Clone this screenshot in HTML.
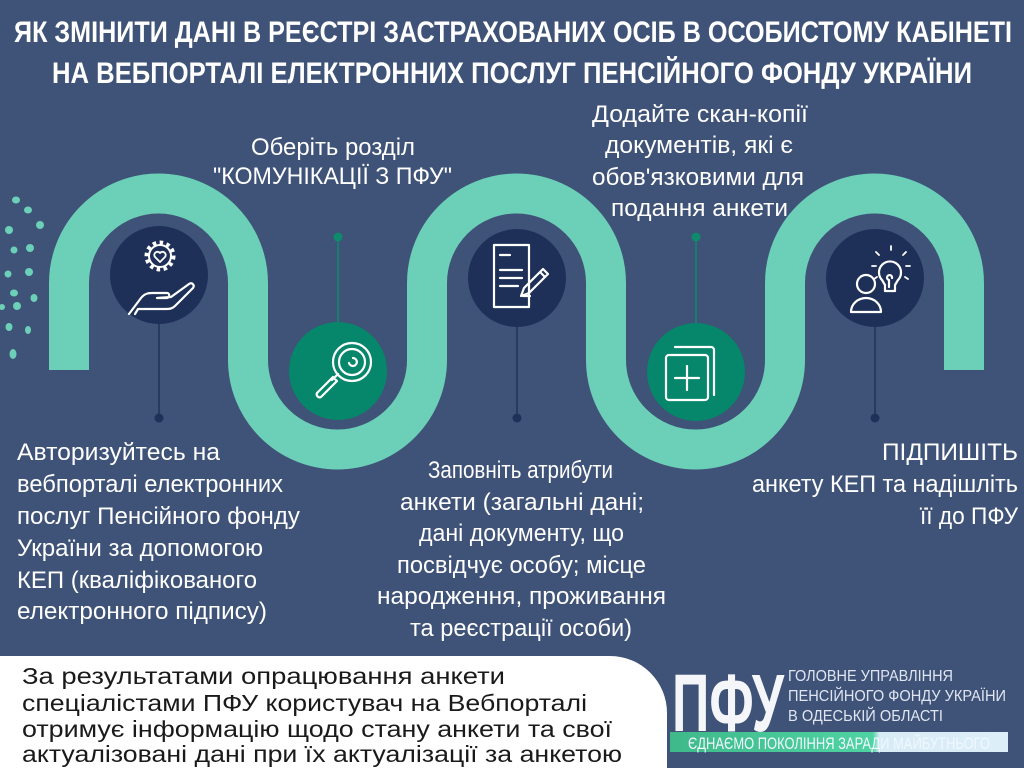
<!DOCTYPE html>
<html><head><meta charset="utf-8"><style>
html,body{margin:0;padding:0;background:#3f5277;width:1024px;height:768px;overflow:hidden}
svg{display:block}
text{font-family:"Liberation Sans","DejaVu Sans",sans-serif;fill:#fff}
</style></head><body>
<svg width="1024" height="768" viewBox="0 0 1024 768" xmlns="http://www.w3.org/2000/svg">
<rect width="1024" height="768" fill="#3f5277"/>
<!-- title -->
<text x="14" y="42" font-size="30" font-weight="bold" textLength="998" lengthAdjust="spacingAndGlyphs">ЯК ЗМІНИТИ ДАНІ В РЕЄСТРІ ЗАСТРАХОВАНИХ ОСІБ В ОСОБИСТОМУ КАБІНЕТІ</text>
<text x="52" y="83" font-size="30" font-weight="bold" textLength="920" lengthAdjust="spacingAndGlyphs">НА ВЕБПОРТАЛІ ЕЛЕКТРОННИХ ПОСЛУГ ПЕНСІЙНОГО ФОНДУ УКРАЇНИ</text>
<!-- dots -->
<g fill="#6ccfb7">
<ellipse cx="16" cy="200" rx="4" ry="3.5"/><ellipse cx="28" cy="210" rx="4" ry="3.5"/><ellipse cx="40" cy="225" rx="4" ry="4"/>
<ellipse cx="9" cy="230" rx="4" ry="4"/><ellipse cx="14" cy="250" rx="3.5" ry="3.5"/><ellipse cx="30" cy="248" rx="4" ry="4"/>
<ellipse cx="8" cy="274" rx="3.5" ry="3.5"/><ellipse cx="29" cy="272" rx="4" ry="4"/><ellipse cx="14" cy="293" rx="4" ry="3.5"/>
<ellipse cx="34" cy="298" rx="3.5" ry="4"/><ellipse cx="17" cy="306" rx="4" ry="4"/><ellipse cx="2" cy="307" rx="3" ry="3"/>
<ellipse cx="9" cy="327" rx="3.5" ry="4"/><ellipse cx="28" cy="330" rx="3" ry="4"/><ellipse cx="13" cy="354" rx="3.5" ry="5"/>
</g>
<!-- wave -->
<path d="M69 370 V283 A89.5 89.5 0 0 1 248 283 V360 A89.5 89.5 0 0 0 427 360 V283 A89.5 89.5 0 0 1 606 283 V360 A89.5 89.5 0 0 0 785 360 V283 A89.5 89.5 0 0 1 964 283 V370" fill="none" stroke="#6ccfb7" stroke-width="40"/>
<!-- connectors -->
<g stroke="#22335a" stroke-width="1.5">
<line x1="159" y1="300" x2="159" y2="418"/><line x1="517" y1="300" x2="517" y2="418"/><line x1="875" y1="300" x2="875" y2="418"/>
</g>
<g stroke="#0f8a6c" stroke-width="1.5">
<line x1="338" y1="237" x2="338" y2="340"/><line x1="696" y1="237" x2="696" y2="340"/>
</g>
<g fill="#1f3158"><circle cx="159" cy="418" r="4.5"/><circle cx="517" cy="418" r="4.5"/><circle cx="875" cy="418" r="4.5"/></g>
<g fill="#0f8a6c"><circle cx="338" cy="237" r="4.5"/><circle cx="696" cy="237" r="4.5"/></g>
<!-- circles -->
<g fill="#1e3058"><circle cx="159" cy="275" r="49"/><circle cx="517" cy="278" r="49"/><circle cx="875" cy="278" r="49"/></g>
<g fill="#06866a"><circle cx="338" cy="371" r="49"/><circle cx="696" cy="372" r="49"/></g>
<!-- icons -->
<g fill="none" stroke="#fff" stroke-width="2.2" stroke-linecap="round" stroke-linejoin="round">
<!-- hand + gear -->
<circle cx="160" cy="256" r="11" stroke-width="2"/>
<circle cx="160" cy="256" r="13.5" stroke-width="4" stroke-dasharray="3.5 3.5" stroke-linecap="butt"/>
<path d="M160 262 l-5-5 a3 3 0 0 1 5-4 a3 3 0 0 1 5 4 z" stroke-width="1.8"/>
<path d="M129 314 l12-16 c4-5 8-5 12-5 h14 c3 0 3 5 0 5 h-10 l14-1 l18-13 c3-2 6 1 4 4 l-18 18 c-3 3-6 3-9 3 h-28 l-3 5"/>
<!-- magnifier -->
<circle cx="352" cy="362" r="19"/><circle cx="352" cy="362" r="13"/>
<path d="M353 358 a4 4 0 1 1-4 5"/>
<path d="M338 374 l-6 6 M333 377 l-16 16 a3 3 0 0 0 4 4 l16-16 z"/>
<!-- document -->
<path d="M494 245 h35 v62 h-35 z"/>
<path d="M500 255 h10 M500 270 h22 M500 278 h22 M500 286 h18 M523 296 h7"/>
<path d="M529 293 l-8 3 3-8 19-19 5 5 z M540 272 l5 5"/>
<!-- copies -->
<path d="M675 347 h36 a3 3 0 0 1 3 3 v45"/>
<rect x="666" y="355" width="42" height="45" rx="3"/>
<path d="M687 366 v24 M675 378 h24"/>
<!-- person + bulb -->
<circle cx="866" cy="284" r="9"/>
<path d="M851 312 a15 14 0 0 1 30 0 z"/>
<path d="M882 280 a11 11 0 1 1 16 0 l-3 5 v6 h-10 v-6 z"/>
<path d="M889 287 v-7 a2.5 2.5 0 1 1 3 -2"/>
<path d="M891 246 v4 M876 252 l3 3 M906 252 l-3 3 M872 266 h4 M906 266 h4 M874 279 l3-2 M908 279 l-3-2" stroke-width="1.8"/>
</g>
<!-- step texts -->
<g font-size="24">
<text x="333" y="155" text-anchor="middle" textLength="164" lengthAdjust="spacingAndGlyphs">Оберіть розділ</text>
<text x="213" y="184" textLength="239" lengthAdjust="spacingAndGlyphs">"КОМУНІКАЦІЇ З ПФУ"</text>
<text x="592" y="122" textLength="216" lengthAdjust="spacingAndGlyphs">Додайте скан-копії</text>
<text x="605" y="153" textLength="188" lengthAdjust="spacingAndGlyphs">документів, які є</text>
<text x="592" y="185" textLength="212" lengthAdjust="spacingAndGlyphs">обов'язковими для</text>
<text x="611" y="216" textLength="177" lengthAdjust="spacingAndGlyphs">подання анкети</text>

<text x="17" y="460" textLength="203" lengthAdjust="spacingAndGlyphs">Авторизуйтесь на</text>
<text x="17" y="492" textLength="266" lengthAdjust="spacingAndGlyphs">вебпорталі електронних</text>
<text x="17" y="524" textLength="283" lengthAdjust="spacingAndGlyphs">послуг Пенсійного фонду</text>
<text x="17" y="556" textLength="246" lengthAdjust="spacingAndGlyphs">України за допомогою</text>
<text x="17" y="588" textLength="240" lengthAdjust="spacingAndGlyphs">КЕП (кваліфікованого</text>
<text x="17" y="619" textLength="250" lengthAdjust="spacingAndGlyphs">електронного підпису)</text>

<text x="428" y="478" textLength="185" lengthAdjust="spacingAndGlyphs">Заповніть атрибути</text>
<text x="400" y="510" textLength="244" lengthAdjust="spacingAndGlyphs">анкети (загальні дані;</text>
<text x="419" y="541" textLength="205" lengthAdjust="spacingAndGlyphs">дані документу, що</text>
<text x="397" y="573" textLength="249" lengthAdjust="spacingAndGlyphs">посвідчує особу; місце</text>
<text x="377" y="604" textLength="289" lengthAdjust="spacingAndGlyphs">народження, проживання</text>
<text x="410" y="636" textLength="222" lengthAdjust="spacingAndGlyphs">та реєстрації особи)</text>

<text x="882" y="460" textLength="136" lengthAdjust="spacingAndGlyphs">ПІДПИШІТЬ</text>
<text x="752" y="492" textLength="266" lengthAdjust="spacingAndGlyphs">анкету КЕП та надішліть</text>
<text x="920" y="524" textLength="98" lengthAdjust="spacingAndGlyphs">її до ПФУ</text>
</g>
<!-- bottom box -->
<path d="M0 656 H610 A57 57 0 0 1 667 713 V768 H0 Z" fill="#fff"/>
<g font-size="23">
<text x="22" y="684" textLength="483" lengthAdjust="spacingAndGlyphs" style="fill:#1a1a1a">За результатами опрацювання анкети</text>
<text x="22" y="711" textLength="565" lengthAdjust="spacingAndGlyphs" style="fill:#1a1a1a">спеціалістами ПФУ користувач на Вебпорталі</text>
<text x="22" y="737" textLength="590" lengthAdjust="spacingAndGlyphs" style="fill:#1a1a1a">отримує інформацію щодо стану анкети та свої</text>
<text x="22" y="762" textLength="600" lengthAdjust="spacingAndGlyphs" style="fill:#1a1a1a">актуалізовані дані при їх актуалізації за анкетою</text>
</g>
<!-- logo -->
<text x="672" y="731" font-size="82" font-weight="bold" textLength="112" lengthAdjust="spacingAndGlyphs" style="fill:#f4f6fa">ПФУ</text>
<g font-size="16">
<text x="788" y="681" textLength="165" lengthAdjust="spacingAndGlyphs" style="fill:#dfe6f2">ГОЛОВНЕ УПРАВЛІННЯ</text>
<text x="788" y="701" textLength="218" lengthAdjust="spacingAndGlyphs" style="fill:#dfe6f2">ПЕНСІЙНОГО ФОНДУ УКРАЇНИ</text>
<text x="788" y="721" textLength="155" lengthAdjust="spacingAndGlyphs" style="fill:#dfe6f2">В ОДЕСЬКІЙ ОБЛАСТІ</text>
</g>
<defs><linearGradient id="g" x1="0" x2="1"><stop offset="0" stop-color="#3fb98a"/><stop offset="0.6" stop-color="#4fd3a3"/><stop offset="0.62" stop-color="#d8ecf6"/><stop offset="1" stop-color="#dceef8"/></linearGradient></defs>
<rect x="670" y="732" width="338" height="20" fill="url(#g)"/>
<text x="688" y="749" font-size="17" textLength="302" lengthAdjust="spacingAndGlyphs" style="fill:#f0f8ff">ЄДНАЄМО ПОКОЛІННЯ ЗАРАДИ МАЙБУТНЬОГО</text>
</svg>
</body></html>
